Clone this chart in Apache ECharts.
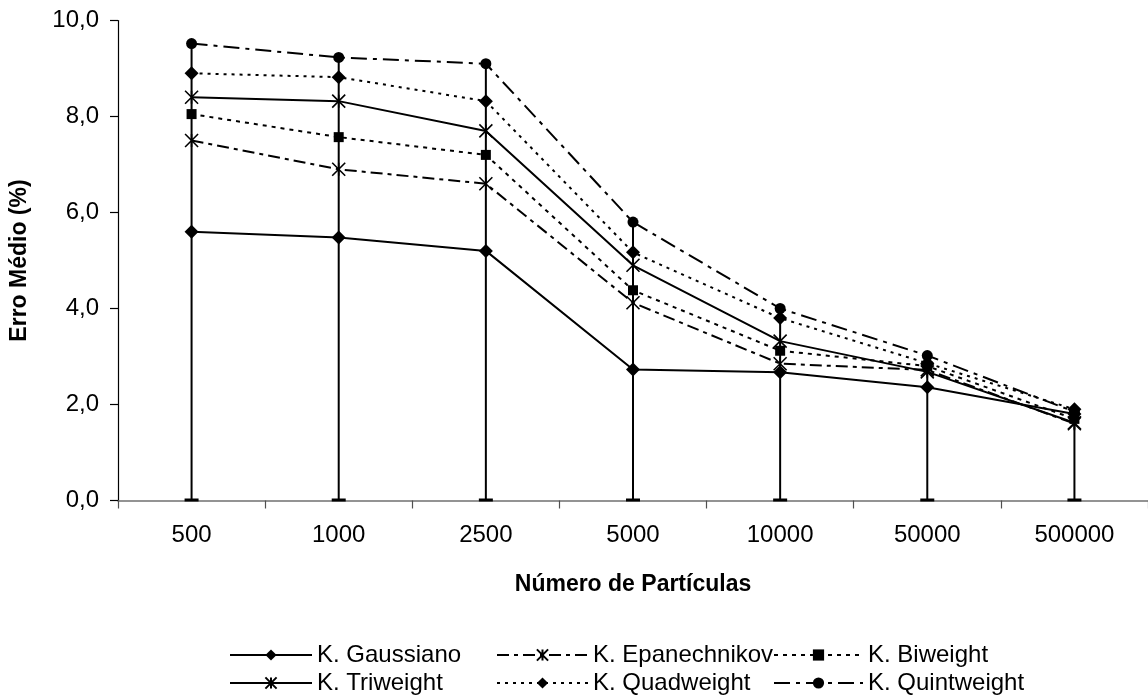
<!DOCTYPE html>
<html>
<head>
<meta charset="utf-8">
<script src="https://cdn.jsdelivr.net/npm/echarts@6/dist/echarts.min.js"></script>
<style>html,body{margin:0;padding:0;background:#fff;}#c{width:1148px;height:700px;}</style>
</head>
<body>
<div id="c"></div>
<script>
var categories = ['500', '1000', '2500', '5000', '10000', '50000', '500000'];
var gaussiano    = [5.6, 5.48, 5.2, 2.73, 2.67, 2.36, 1.8];
var epanechnikov = [7.5, 6.9, 6.6, 4.12, 2.85, 2.72, 1.6];
var biweight     = [8.05, 7.57, 7.2, 4.38, 3.12, 2.8, 1.7];
var triweight    = [8.4, 8.32, 7.7, 4.9, 3.32, 2.68, 1.62];
var quadweight   = [8.9, 8.82, 8.32, 5.17, 3.8, 2.86, 1.9];
var quintweight  = [9.52, 9.23, 9.1, 5.8, 4.0, 3.02, 1.85];
var seriesNames = ['K. Gaussiano', 'K. Epanechnikov', 'K. Biweight', 'K. Triweight', 'K. Quadweight', 'K. Quintweight'];
var yTicks = [0, 2, 4, 6, 8, 10];

var all = [gaussiano, epanechnikov, biweight, triweight, quadweight, quintweight];
var maxVals = categories.map(function (c, i) {
  return Math.max.apply(null, all.map(function (s) { return s[i]; }));
});

var FONT = '"Liberation Sans", Arial, sans-serif';
var FS = 24;
var STAR = 'path://M0,0L10,10M10,0L0,10M5,0L5,10';

function lineSeries(name, data, symbol, size, dash, strokeSym) {
  return {
    name: name, type: 'line', data: data, z: 3,
    symbol: symbol, symbolSize: size,
    lineStyle: { color: '#000', width: 2, type: dash },
    itemStyle: strokeSym ? { color: '#000', borderColor: '#000', borderWidth: 1.6 } : { color: '#000', borderWidth: 0 },
    emphasis: { disabled: true }
  };
}

var chart = echarts.init(document.getElementById('c'), null, { renderer: 'canvas' });

function legendAt(name, left, top, w) {
  return {
    data: [name], left: left, top: top, padding: 0, itemWidth: w, itemHeight: 14,
    itemGap: 0, selectedMode: false,
    textStyle: { fontFamily: FONT, fontSize: FS, color: '#000' }
  };
}

chart.setOption({
  animation: false,
  backgroundColor: '#fff',
  grid: { left: 116, right: 0, top: 20.5, bottom: 199.5 },
  legend: [
    legendAt(seriesNames[0], 229, 643, 82),
    legendAt(seriesNames[1], 496, 643, 91),
    legendAt(seriesNames[2], 773, 643, 89),
    legendAt(seriesNames[3], 229, 671, 82),
    legendAt(seriesNames[4], 496, 671, 91),
    legendAt(seriesNames[5], 773, 671, 89)
  ],
  xAxis: {
    type: 'category', data: categories, boundaryGap: true,
    name: 'Número de Partículas', nameLocation: 'middle', nameGap: 73,
    nameTextStyle: { fontFamily: FONT, fontSize: 23, fontWeight: 'bold', color: '#000' },
    axisLine: { lineStyle: { color: '#707070', width: 1.5 } },
    axisTick: { show: true, length: 8, lineStyle: { color: '#505050', width: 1.2 } },
    axisLabel: { fontFamily: FONT, fontSize: FS, color: '#000', margin: 23 },
    splitLine: { show: false }
  },
  yAxis: {
    type: 'value', min: 0, max: 10, interval: 2,
    name: 'Erro Médio (%)', nameLocation: 'middle', nameGap: 87,
    nameTextStyle: { fontFamily: FONT, fontSize: 23, fontWeight: 'bold', color: '#000' },
    axisLine: { show: true, lineStyle: { color: '#000', width: 1.2 } },
    axisTick: { show: true, length: 8, lineStyle: { color: '#000', width: 1.2 } },
    axisLabel: {
      fontFamily: FONT, fontSize: FS, color: '#000', margin: 19,
      formatter: function (v) { return v.toFixed(1).replace('.', ','); }
    },
    splitLine: { show: false }
  },
  series: [
    {
      type: 'custom', z: 2, silent: true,
      data: categories.map(function (c, i) { return [i, maxVals[i]]; }),
      encode: { x: 0, y: 1 },
      renderItem: function (params, api) {
        var i = api.value(0);
        var p0 = api.coord([i, 0]);
        var p1 = api.coord([i, api.value(1)]);
        return {
          type: 'group',
          children: [
            { type: 'line', shape: { x1: p0[0], y1: p0[1], x2: p1[0], y2: p1[1] }, style: { stroke: '#000', lineWidth: 2 } },
            { type: 'line', shape: { x1: p0[0] - 7, y1: p0[1] - 0.5, x2: p0[0] + 7, y2: p0[1] - 0.5 }, style: { stroke: '#000', lineWidth: 3 } }
          ]
        };
      }
    },
    lineSeries(seriesNames[0], gaussiano, 'diamond', 14, 'solid', false),
    lineSeries(seriesNames[1], epanechnikov, STAR, 13, [12, 5, 4, 5], true),
    lineSeries(seriesNames[2], biweight, 'rect', 10, [4, 5], false),
    lineSeries(seriesNames[3], triweight, STAR, 13, 'solid', true),
    lineSeries(seriesNames[4], quadweight, 'diamond', 14, [3, 5], false),
    lineSeries(seriesNames[5], quintweight, 'circle', 11, [16, 6, 4, 6], false)
  ]
});
</script>
</body>
</html>
